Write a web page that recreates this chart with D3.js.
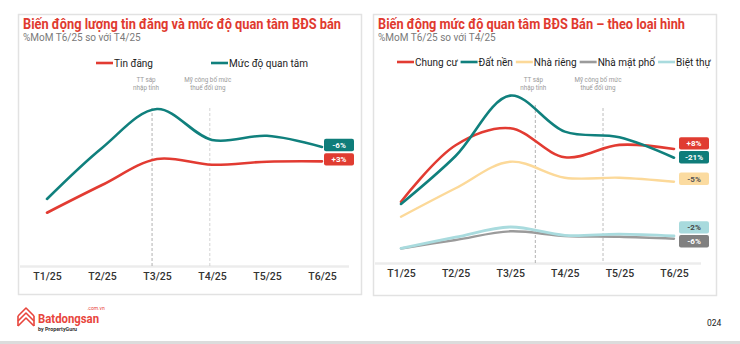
<!DOCTYPE html>
<html><head><meta charset="utf-8">
<script src="https://cdn.jsdelivr.net/npm/d3@7"></script>
<style>
body{margin:0;background:#fff;}
svg{display:block;font-family:Roboto,"Noto Sans",sans-serif;}
</style>
</head><body><svg id="c" width="740" height="344"></svg>
<script>
// ---------------- DATA ----------------
const months = ["T1/25","T2/25","T3/25","T4/25","T5/25","T6/25"];

// Left chart: index values
const tinDang      = [33.3, 50.6, 66.9, 63.3, 65.2, 65.4];
const mucDoQuanTam = [41.9, 73.8, 98.1, 78.8, 81.4, 74.4];
const leftNames    = ["Tin đăng", "Mức độ quan tâm"];
const leftChanges  = ["+3%", "-6%"];

// Right chart: interest index by property type
const chungCu   = [38.3, 73.6, 84.2, 66.1, 73.8, 71.3];
const datNen    = [36.9, 66.9, 104.6, 82.1, 78.6, 65.8];
const nhaRieng  = [28.9, 46.7, 63.3, 53.3, 53.3, 50.8];
const nhaMatPho = [9.1, 14.4, 19.8, 16.9, 16.4, 15.2];
const bietThu   = [9.2, 16.1, 22.5, 17.3, 18.1, 16.9];
const rightNames   = ["Chung cư", "Đất nền", "Nhà riêng", "Nhà mặt phố", "Biệt thự"];
const rightChanges = ["+8%", "-21%", "-5%", "-6%", "-2%"];

// Events (position in month index units)
const leftEvents  = [{at: 1.91, lines: ["TT sáp", "nhập tỉnh"]}, {at: 2.96, lines: ["Mỹ công bố mức", "thuế đối ứng"]}];
const rightEvents = [{at: 2.46, lines: ["TT sáp", "nhập tỉnh"]}, {at: 3.70, lines: ["Mỹ công bố mức", "thuế đối ứng"]}];

// ---------------- STYLE ----------------
const C = {red:"#e23b32", teal:"#10807d", yellow:"#fcd999", gray:"#9b9b9b", blue:"#a9dbde"};
const boxC = {red:"#e03c31", teal:"#0f7d7a", yellow:"#fbdba0", gray:"#808080", blue:"#a8dadd"};
const txtC = {red:"#fff", teal:"#fff", yellow:"#555", gray:"#fff", blue:"#444"};

const svg = d3.select("#c");

// panel frames
function frame(x, y, w, h){
  svg.append("rect").attr("x",x).attr("y",y).attr("width",w).attr("height",h)
    .attr("fill","#fff").attr("stroke","#e2e2e2").attr("stroke-width",1.5);
}
frame(18.5, 14.5, 343, 280);
frame(373.5, 14.5, 343, 281);

function titles(x, t, w){
  svg.append("text").attr("x",x).attr("y",29).attr("fill","#e03a2f")
    .attr("font-size",15).attr("font-weight",700)
    .attr("textLength",w).attr("lengthAdjust","spacingAndGlyphs").text(t);
  svg.append("text").attr("x",x).attr("y",41).attr("fill","#7a7a7a")
    .attr("font-size",10).text("%MoM T6/25 so với T4/25");
}
titles(23, "Biến động lượng tin đăng và mức độ quan tâm BĐS bán", 318);
titles(378, "Biến động mức độ quan tâm BĐS Bán – theo loại hình", 307);

function chart(cfg){
  const g = svg.append("g");
  const x = d3.scalePoint().domain(months).range([cfg.x0, cfg.x1]);
  const step = x.step();
  const y = d3.scaleLinear().domain([0, 100]).range([cfg.base, cfg.base - 160]);

  // baseline
  g.append("line").attr("x1",cfg.bx0).attr("x2",cfg.bx1).attr("y1",cfg.base+0.5).attr("y2",cfg.base+0.5)
    .attr("stroke","#ececec").attr("stroke-width",2.5);

  // axis labels
  const ax = g.append("g").attr("transform",`translate(0,${cfg.base})`)
    .call(d3.axisBottom(x).tickSize(0).tickPadding(cfg.pad));
  ax.select(".domain").remove();
  ax.selectAll("text").attr("font-size",10.5).attr("font-weight",500).attr("fill","#333")
    .attr("font-family","Roboto, sans-serif");

  // events
  cfg.events.forEach((e, i) => {
    const ex = x(months[0]) + e.at * step;
    g.append("line").attr("x1",ex).attr("x2",ex).attr("y1",cfg.dashTop[i]).attr("y2",cfg.base)
      .attr("stroke", cfg.dashCol[i]).attr("stroke-width",0.9).attr("stroke-dasharray","3,2");
    e.lines.forEach((l, k) => {
      g.append("text").attr("x", ex + cfg.evOff[i]).attr("y", 82 + k*8).attr("text-anchor","middle")
        .attr("font-size",6.3).attr("fill","#9a9a9a").text(l);
    });
  });

  // lines
  const line = d3.line().x((d,i)=>x(months[i])).y(d=>y(d)).curve(d3.curveCatmullRom.alpha(0.5));
  cfg.series.forEach(s => {
    g.append("path").datum(s.values).attr("d",line).attr("fill","none")
      .attr("stroke",C[s.color]).attr("stroke-width",s.w || 2.6)
      .attr("stroke-linecap","round").attr("stroke-linejoin","round");
  });

  // end labels with dodge
  const items = cfg.series.map(s => ({s, y: y(s.values[s.values.length-1])}));
  items.sort((a,b)=>a.y-b.y);
  for (let k=0;k<60;k++){
    for (let i=1;i<items.length;i++){
      const d = items[i].y - items[i-1].y;
      if (d < 13.8){ const sh=(13.8-d)/2; items[i].y+=sh; items[i-1].y-=sh; }
    }
  }
  const lx = cfg.x1 + cfg.labOff;
  items.forEach(it => {
    const cy = it.y + cfg.labShift;
    g.append("rect").attr("x",lx).attr("y",cy-6.2).attr("width",30).attr("height",12.4).attr("rx",2)
      .attr("fill",boxC[it.s.color]);
    g.append("text").attr("x",lx+15).attr("y",cy+2.8).attr("text-anchor","middle")
      .attr("font-size",8).attr("font-weight",700).attr("fill",txtC[it.s.color]).text(it.s.change);
  });

  // legend
  let lxp = cfg.legX;
  cfg.series.slice().sort((a,b)=>a.legOrder-b.legOrder).forEach((s, i) => {
    if (cfg.legFixed) lxp = cfg.legFixed[i];
    g.append("line").attr("x1",lxp).attr("x2",lxp+17).attr("y1",cfg.legY).attr("y2",cfg.legY)
      .attr("stroke",C[s.color]).attr("stroke-width",2.6);
    const t = g.append("text").attr("x",lxp+18).attr("y",cfg.legY+3.6).attr("font-size",10)
      .attr("fill","#222").text(s.name);
    lxp = lxp + 18 + t.node().getComputedTextLength() + 3;
  });
}

chart({
  x0: 47, x1: 322, base: 266, bx0: 20, bx1: 349, pad: 7,
  events: leftEvents, dashTop: [108, 108], dashCol: ["#a8a8a8", "#cfcfcf"], evOff: [-6, -2],
  labOff: 2, labShift: -2,
  legX: 96, legFixed: [96, 211], legY: 63,
  series: [
    {name: leftNames[0], values: tinDang, color: "red", change: leftChanges[0], legOrder: 0},
    {name: leftNames[1], values: mucDoQuanTam, color: "teal", change: leftChanges[1], legOrder: 1}
  ]
});

chart({
  x0: 401, x1: 674, base: 263, bx0: 375, bx1: 701, pad: 7,
  events: rightEvents, dashTop: [105, 108], dashCol: ["#a8a8a8", "#b5b5b5"], evOff: [-2, -5],
  labOff: 5, labShift: -3,
  legX: 397, legY: 62,
  series: [
    {name: rightNames[3], values: nhaMatPho, color: "gray", change: rightChanges[3], legOrder: 3, w: 2.4},
    {name: rightNames[4], values: bietThu, color: "blue", change: rightChanges[4], legOrder: 4, w: 2.8},
    {name: rightNames[2], values: nhaRieng, color: "yellow", change: rightChanges[2], legOrder: 2, w: 2.4},
    {name: rightNames[0], values: chungCu, color: "red", change: rightChanges[0], legOrder: 0},
    {name: rightNames[1], values: datNen, color: "teal", change: rightChanges[1], legOrder: 1}
  ]
});

// footer: logo
const logo = svg.append("g").attr("fill","none").attr("stroke","#e8453c").attr("stroke-width",1.6)
  .attr("stroke-linejoin","round");
logo.append("path").attr("d","M18,316 L26,308 L34,316");
logo.append("path").attr("d","M18,321 L26,313 L34,321");
logo.append("path").attr("d","M18,326 L26,318 L34,326");
logo.append("path").attr("d","M18,316 L18,326 M34,316 L34,326");
svg.append("text").attr("x",38).attr("y",323).attr("fill","#e8453c").attr("font-size",12.5)
  .attr("font-weight",700).attr("textLength",61).attr("lengthAdjust","spacingAndGlyphs").text("Batdongsan");
svg.append("text").attr("x",87).attr("y",310).attr("fill","#e8453c").attr("font-size",5).text(".com.vn");
svg.append("text").attr("x",38).attr("y",330.5).attr("fill","#333").attr("font-size",5.3)
  .attr("font-weight",700).text("by PropertyGuru");
svg.append("text").attr("x",707).attr("y",326).attr("fill","#222").attr("font-size",8.5).text("024");
svg.append("rect").attr("x",0).attr("y",341).attr("width",740).attr("height",3).attr("fill","#dcdcdc");
</script>
</body></html>
